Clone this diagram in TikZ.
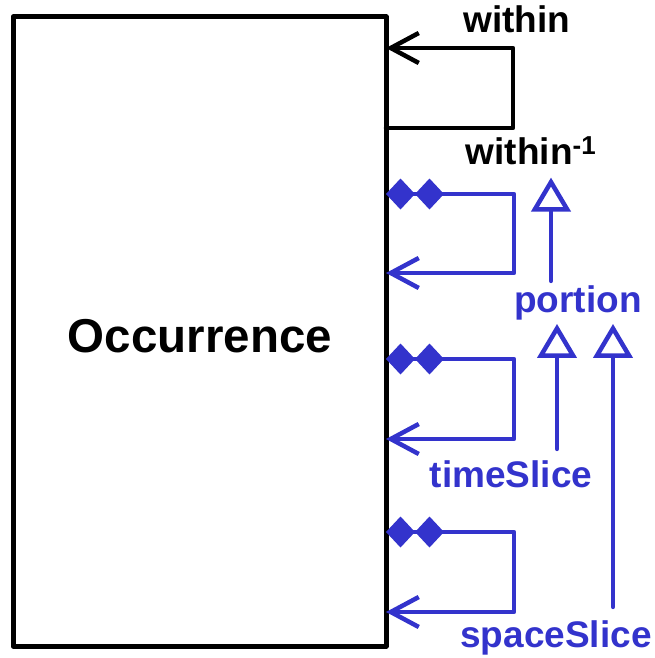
\documentclass[tikz,border=0pt]{standalone}
\usepackage{fontspec}
\setmainfont{Liberation Sans}
\usetikzlibrary{arrows.meta,calc,positioning}
\definecolor{umlblue}{RGB}{51,51,204}

\begin{document}
\begin{tikzpicture}[x=1pt,y=-1pt,line width=4.5pt,line cap=round,line join=round,
  lbl/.style={font=\fontsize{37}{40}\selectfont\bfseries,inner sep=2pt,anchor=base},
  navi/.style={-{Straight Barb[length=28pt,width=30pt]}},
  comp/.style={{Diamond[length=29pt,width=31pt]Diamond[length=29pt,width=31pt]}-{Straight Barb[length=28pt,width=30pt]}},
  gen/.style={-{Triangle[open,length=34pt,width=39pt,fill=white]}}]
  \useasboundingbox (0,0) rectangle (654,658);

  % the class box
  \node[draw,line width=5pt,outer sep=0pt,minimum width=373pt,minimum height=629pt] (occ) at (199.5,331.5) {};
  \node[font=\fontsize{47.5}{50}\selectfont\bfseries,anchor=base] (occname) at (200,352) {Occurrence};

  % within loop
  \draw[navi] (occ.east |- 0,128) -| (513,48) -- (occ.east |- 0,48);
  \node[lbl] (within) at (517,33) {within};
  \node[lbl] (withininv) at (531,164) {within\textsuperscript{-1}};

  % whole-part loops
  \draw[umlblue,comp] (occ.east |- 0,194) -| (514,273) -- (occ.east |- 0,273);
  \draw[umlblue,comp] (occ.east |- 0,359) -| (514,439) -- (occ.east |- 0,439);
  \draw[umlblue,comp] (occ.east |- 0,532) -| (514,612) -- (occ.east |- 0,612);

  % role names
  \node[lbl,umlblue] (portion) at (578,312) {portion};
  \node[lbl,umlblue] (timeslice) at (511,487) {timeSlice};
  \node[lbl,umlblue] (spaceslice) at (556,647) {spaceSlice};

  % generalisations
  \draw[umlblue,gen,shorten >=9pt] (portion.north -| 551,0) -- (withininv.south -| 551,0);
  \draw[umlblue,gen] ([yshift=7pt]timeslice.north -| 557,0) -- (portion.south -| 557,0);
  \draw[umlblue,gen] ([yshift=9pt]spaceslice.north -| 613,0) -- (portion.south -| 613,0);
\end{tikzpicture}
\end{document}
